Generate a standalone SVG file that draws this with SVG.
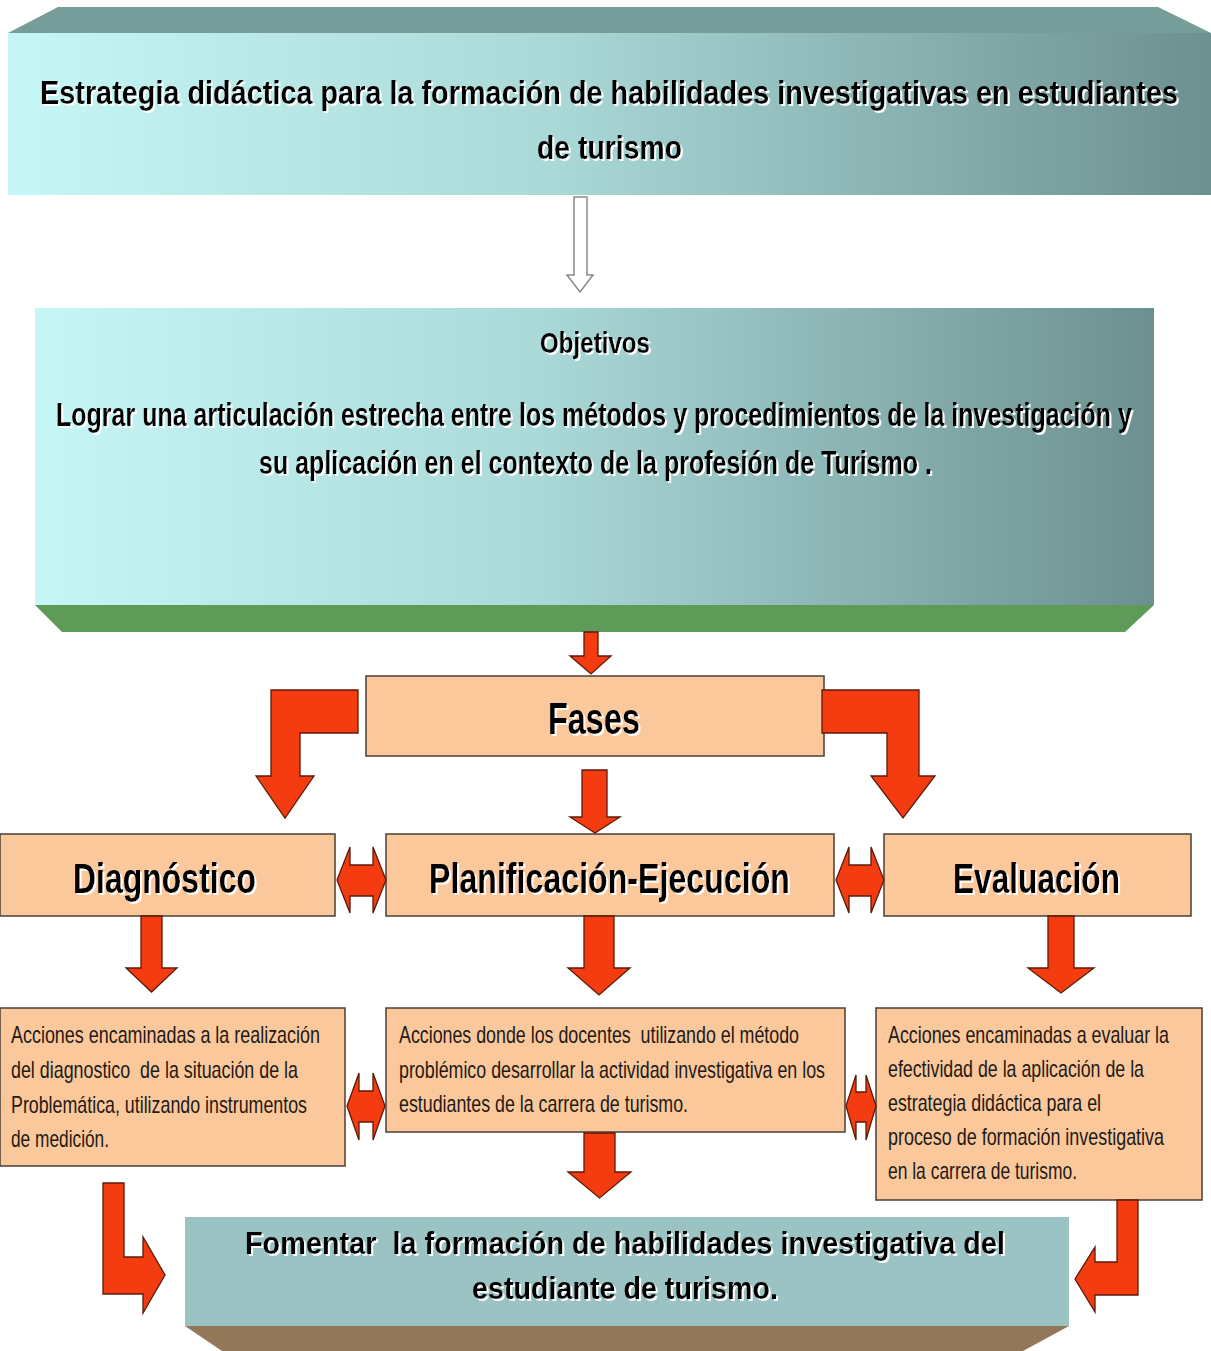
<svg xmlns="http://www.w3.org/2000/svg" width="1211" height="1351" viewBox="0 0 1211 1351">
<defs>
<linearGradient id="teal" x1="0" y1="0" x2="1" y2="0">
<stop offset="0" stop-color="#c6f6f5"/>
<stop offset="0.45" stop-color="#aad9d8"/>
<stop offset="1" stop-color="#6c908f"/>
</linearGradient>
<filter id="wshadow" x="-5%" y="-30%" width="110%" height="160%">
<feDropShadow dx="2" dy="2" stdDeviation="0.6" flood-color="#ffffff" flood-opacity="0.95"/>
</filter>
<style>
.t{font-family:"Liberation Sans Narrow","Liberation Sans",Arial,sans-serif;font-weight:bold;fill:#000;filter:url(#wshadow);white-space:pre}
.a{font-family:"Liberation Sans Narrow","Liberation Sans",Arial,sans-serif;font-size:24px;fill:#1e1a16;white-space:pre}
.peach{fill:#fbc89c;stroke:#4a3f35;stroke-width:1.5}
.red{fill:#f53c10;stroke:#5a1a08;stroke-width:1.3;stroke-linejoin:miter}
.hollow{fill:#ffffff;stroke:#8a8a8a;stroke-width:1.5}
</style>
</defs>
<rect width="1211" height="1351" fill="#ffffff"/>

<g id="title">
<polygon points="58,7 1158,7 1211,33 8,33" fill="#769d9a"/>
<rect x="8" y="33" width="1203" height="162" fill="url(#teal)"/>
<text class="t" x="40" y="104" font-size="33" textLength="1138" lengthAdjust="spacingAndGlyphs">Estrategia didáctica para la formación de habilidades investigativas en estudiantes</text>
<text class="t" x="537" y="159" font-size="33" textLength="145" lengthAdjust="spacingAndGlyphs">de turismo</text>
</g>

<g id="objetivos">
<rect x="35" y="308" width="1119" height="297" fill="url(#teal)"/>
<polygon points="35,605 1154,605 1125,632 62,632" fill="#5e9a58"/>
<text class="t" x="540" y="353" font-size="30" textLength="110" lengthAdjust="spacingAndGlyphs">Objetivos</text>
<text class="t" x="56" y="426" font-size="33" textLength="1076" lengthAdjust="spacingAndGlyphs">Lograr una articulación estrecha entre los métodos y procedimientos de la investigación y</text>
<text class="t" x="259" y="474" font-size="33" textLength="673" lengthAdjust="spacingAndGlyphs">su aplicación en el contexto de la profesión de Turismo .</text>
</g>

<g id="fases">
<rect class="peach" x="366" y="676" width="458" height="80"/>
<text class="t" x="548" y="734" font-size="45" textLength="92" lengthAdjust="spacingAndGlyphs">Fases</text>
</g>

<g id="diagnostico">
<rect class="peach" x="0" y="834" width="335" height="82"/>
<text class="t" x="73" y="893" font-size="42" textLength="183" lengthAdjust="spacingAndGlyphs">Diagnóstico</text>
</g>

<g id="planificacion">
<rect class="peach" x="386" y="834" width="448" height="82"/>
<text class="t" x="429" y="893" font-size="42" textLength="361" lengthAdjust="spacingAndGlyphs">Planificación-Ejecución</text>
</g>

<g id="evaluacion">
<rect class="peach" x="884" y="834" width="307" height="82"/>
<text class="t" x="953" y="893" font-size="42" textLength="167" lengthAdjust="spacingAndGlyphs">Evaluación</text>
</g>

<g id="acciones-diagnostico">
<rect class="peach" x="0" y="1008" width="345" height="158"/>
<text class="a" x="11" y="1043" textLength="309" lengthAdjust="spacingAndGlyphs">Acciones encaminadas a la realización</text>
<text class="a" x="11" y="1078" textLength="287" lengthAdjust="spacingAndGlyphs">del diagnostico  de la situación de la</text>
<text class="a" x="11" y="1113" textLength="296" lengthAdjust="spacingAndGlyphs">Problemática, utilizando instrumentos</text>
<text class="a" x="11" y="1147" textLength="98" lengthAdjust="spacingAndGlyphs">de medición.</text>
</g>

<g id="acciones-planificacion">
<rect class="peach" x="386" y="1008" width="459" height="124"/>
<text class="a" x="399" y="1043" textLength="400" lengthAdjust="spacingAndGlyphs">Acciones donde los docentes  utilizando el método</text>
<text class="a" x="399" y="1078" textLength="426" lengthAdjust="spacingAndGlyphs">problémico desarrollar la actividad investigativa en los</text>
<text class="a" x="399" y="1112" textLength="289" lengthAdjust="spacingAndGlyphs">estudiantes de la carrera de turismo.</text>
</g>

<g id="acciones-evaluacion">
<rect class="peach" x="876" y="1008" width="326" height="192"/>
<text class="a" x="888" y="1043" textLength="281" lengthAdjust="spacingAndGlyphs">Acciones encaminadas a evaluar la</text>
<text class="a" x="888" y="1077" textLength="256" lengthAdjust="spacingAndGlyphs">efectividad de la aplicación de la</text>
<text class="a" x="888" y="1111" textLength="213" lengthAdjust="spacingAndGlyphs">estrategia didáctica para el</text>
<text class="a" x="888" y="1145" textLength="276" lengthAdjust="spacingAndGlyphs">proceso de formación investigativa</text>
<text class="a" x="888" y="1179" textLength="189" lengthAdjust="spacingAndGlyphs">en la carrera de turismo.</text>
</g>

<g id="fomentar">
<rect x="185" y="1217" width="884" height="109" fill="#9cc3c3"/>
<polygon points="185,1326 1069,1326 1023,1351 222,1351" fill="#927759"/>
<text class="t" x="245" y="1254" font-size="32" textLength="760" lengthAdjust="spacingAndGlyphs">Fomentar  la formación de habilidades investigativa del</text>
<text class="t" x="472" y="1299" font-size="32" textLength="306" lengthAdjust="spacingAndGlyphs">estudiante de turismo.</text>
</g>

<g id="connectors">
<polygon class="hollow" points="574,197 587,197 587,275 593,275 580,292 567,275 574,275"/>
<polygon class="red" points="584,632 598,632 598,656 611,656 591,674 570,656 584,656"/>
<polygon class="red" points="358,690 271,690 271,776 256,776 285,818 314,776 300,776 300,733 358,733"/>
<polygon class="red" points="822,690 919,690 919,776 935,776 903,818 871,776 887,776 887,733 822,733"/>
<polygon class="red" points="582,770 607,770 607,817 620,817 595,833 570,817 582,817"/>
<polygon class="red" points="337,880 350,847 350,865 373,865 373,847 386,880 373,913 373,896 350,896 350,913"/>
<polygon class="red" points="836,880 849,847 849,865 871,865 871,847 884,880 871,913 871,896 849,896 849,913"/>
<polygon class="red" points="141,916 162,916 162,968 177,968 151.5,992 126,968 141,968"/>
<polygon class="red" points="584,916 614,916 614,968 630,968 599,995 568,968 584,968"/>
<polygon class="red" points="1048,916 1074,916 1074,968 1094,968 1061,993 1028,968 1048,968"/>
<polygon class="red" points="347,1106 359,1073 359,1091 373,1091 373,1073 385,1106 373,1140 373,1122 359,1122 359,1140"/>
<polygon class="red" points="846,1106 856,1075 856,1092 866,1092 866,1075 876,1106 866,1140 866,1122 856,1122 856,1140"/>
<polygon class="red" points="584,1133 615,1133 615,1172 631,1172 599.5,1198 568,1172 584,1172"/>
<polygon class="red" points="103,1183 124,1183 124,1257 143,1257 143,1237 165,1275 143,1313 143,1294 103,1294"/>
<polygon class="red" points="1117,1200 1138,1200 1138,1295 1095,1295 1095,1312 1075,1279 1095,1247 1095,1262 1117,1262"/>
</g>
</svg>
